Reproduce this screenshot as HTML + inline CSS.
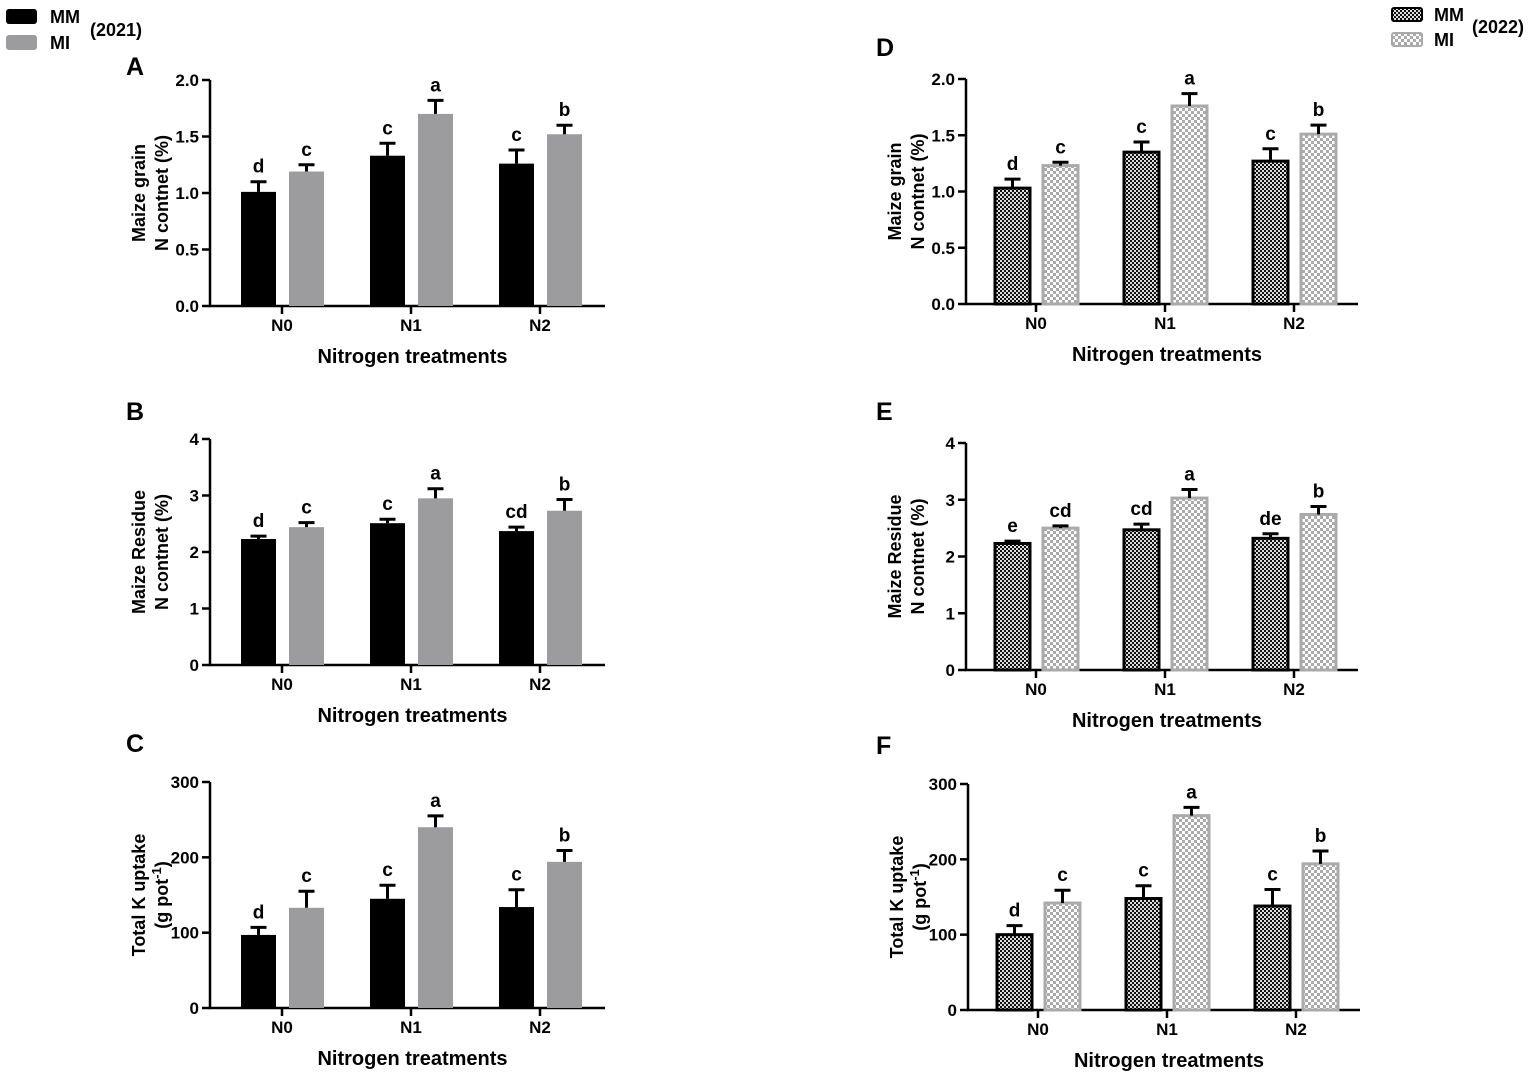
<!DOCTYPE html>
<html><head><meta charset="utf-8"><style>
html,body{margin:0;padding:0;background:#fff}
svg{display:block;font-family:"Liberation Sans",Arial,sans-serif;font-weight:bold}
</style></head><body>
<svg id="fig" width="1535" height="1073" viewBox="0 0 1535 1073" xmlns="http://www.w3.org/2000/svg">
<defs>
<pattern id="pMM" width="4" height="4" patternUnits="userSpaceOnUse"><rect width="4" height="4" fill="#111"/><rect width="2" height="2" fill="#ddd"/><rect x="2" y="2" width="2" height="2" fill="#ddd"/></pattern>
<pattern id="pMI" width="6" height="6" patternUnits="userSpaceOnUse"><rect width="6" height="6" fill="#fff"/><rect width="3" height="3" fill="#aaa"/><rect x="3" y="3" width="3" height="3" fill="#aaa"/></pattern>
</defs>
<g>
<rect x="6" y="9" width="31" height="15" rx="3" fill="#000"/>
<text x="50" y="23" font-size="18">MM</text>
<rect x="6" y="35" width="31" height="15" rx="3" fill="#9c9c9e"/>
<text x="50" y="49" font-size="18">MI</text>
<text x="90" y="36" font-size="18">(2021)</text>
</g>
<g>
<rect x="1392" y="8" width="30" height="13" rx="2" fill="url(#pMM)" stroke="#000" stroke-width="2"/>
<text x="1434" y="21" font-size="18">MM</text>
<rect x="1392" y="33" width="30" height="13" rx="2" fill="url(#pMI)" stroke="#aaa" stroke-width="2"/>
<text x="1434" y="46" font-size="18">MI</text>
<text x="1472" y="33" font-size="18">(2022)</text>
</g>
</svg>
<script>
const categories=["N0","N1","N2"];
const aMM=[1.01,1.33,1.26], aMMe=[0.09,0.11,0.12], aMI=[1.19,1.70,1.52], aMIe=[0.06,0.12,0.08];
const aLet=[["d","c"],["c","a"],["c","b"]];
const bMM=[2.23,2.51,2.37], bMMe=[0.05,0.07,0.07], bMI=[2.44,2.95,2.73], bMIe=[0.08,0.17,0.2];
const bLet=[["d","c"],["c","a"],["cd","b"]];
const cMM=[97,145,134], cMMe=[10,18,23], cMI=[133,240,194], cMIe=[22,15,15];
const cLet=[["d","c"],["c","a"],["c","b"]];
const dMM=[1.03,1.35,1.27], dMMe=[0.08,0.09,0.11], dMI=[1.23,1.76,1.51], dMIe=[0.03,0.11,0.08];
const dLet=[["d","c"],["c","a"],["c","b"]];
const eMM=[2.23,2.47,2.32], eMMe=[0.04,0.1,0.08], eMI=[2.5,3.03,2.74], eMIe=[0.04,0.15,0.14];
const eLet=[["e","cd"],["cd","a"],["de","b"]];
const fMM=[100,148,138], fMMe=[12,17,22], fMI=[142,258,194], fMIe=[17,11,17];
const fLet=[["d","c"],["c","a"],["c","b"]];
const ticksGrain=["0.0","0.5","1.0","1.5","2.0"], ticksRes=["0","1","2","3","4"], ticksK=["0","100","200","300"];

const svg=document.getElementById('fig'), NS="http://www.w3.org/2000/svg";
function mk(tag,attrs,parent,txt){const e=document.createElementNS(NS,tag);for(const k in attrs)e.setAttribute(k,attrs[k]);if(txt!==undefined)e.textContent=txt;(parent||svg).appendChild(e);return e;}

function panel(o){
  const g=mk('g',{});
  
  
  const ymax=parseFloat(o.ticks[o.ticks.length-1]);
  const y=v=>o.bot-(v/ymax)*(o.bot-o.top);
  const x=i=>o.c0+i*o.step;
  const ax=mk('path',{d:`M${o.ax} ${o.top}V${o.bot}H${o.ax2}`,stroke:'#000','stroke-width':2.5,fill:'none'},g);
  
  
  o.ticks.forEach((t,i)=>{const v=parseFloat(t);const yy=y(v);
    mk('line',{x1:o.ax-8,x2:o.ax,y1:yy,y2:yy,stroke:'#000','stroke-width':2.5},g);
    const tl=mk('text',{x:o.ax-11,y:yy+6,'font-size':17,'text-anchor':'end'},g,t);
    
    
  });
  categories.forEach((c,i)=>{
    mk('line',{x1:x(i),x2:x(i),y1:o.bot,y2:o.bot+8,stroke:'#000','stroke-width':2.5},g);
    const cl=mk('text',{x:x(i),y:o.bot+25,'font-size':17,'text-anchor':'middle'},g,c);
    
    
    [[o.mm,o.mme],[o.mi,o.mie]].forEach((s,k)=>{
      const v=s[0][i], e=s[1][i];
      const bx=x(i)+(k===0?-41:7), bw=35;
      const bar=mk('rect',{x:bx,y:y(v),width:bw,height:o.bot-y(v)},g);
      if(o.pat){bar.setAttribute('fill',k===0?'url(#pMM)':'url(#pMI)');bar.setAttribute('stroke',k===0?'#000':'#aaa');bar.setAttribute('stroke-width',3);}
      else bar.setAttribute('fill',k===0?'#000':'#9c9c9e');
      
      
      const cx=bx+bw/2;
      mk('path',{d:`M${cx} ${y(v)}V${y(v+e)}M${cx-8} ${y(v+e)}H${cx+8}`,stroke:'#000','stroke-width':3,fill:'none'},g);
      const lt=mk('text',{x:cx,y:y(v+e)-9,'font-size':19,'text-anchor':'middle'},g,o.lets[i][k]);
      
      
    });
  });
  const xt=mk('text',{x:(o.ax+o.ax2)/2+5,y:o.bot+57,'font-size':20,'text-anchor':'middle'},g,'Nitrogen treatments');
  
  
  const mid=(o.top+o.bot)/2;
  const yt=mk('text',{transform:`translate(${o.ax-65},${mid}) rotate(-90)`,'font-size':18,'text-anchor':'middle'},g);
  
  
  mk('tspan',{x:0,dy:0},yt,o.yl[0]);
  const t2=mk('tspan',{x:0,dy:23},yt,o.yl[1]);
  if(o.sup){t2.textContent='(g pot';mk('tspan',{dy:-7,'font-size':13},yt,'-1');mk('tspan',{dy:7},yt,')');}
  const pl=mk('text',{x:o.lx,y:o.ly,'font-size':25},g,o.letter);
  
  
}
const L={ax:210,ax2:605,c0:282,step:129,lx:126};
const R={ax:966,ax2:1358,c0:1036,step:129,lx:876};
panel({...L,letter:'A',ly:75,top:80,bot:306,ticks:ticksGrain,mm:aMM,mme:aMMe,mi:aMI,mie:aMIe,lets:aLet,yl:['Maize grain','N contnet (%)']});
panel({...L,letter:'B',ly:420,top:439,bot:665,ticks:ticksRes,mm:bMM,mme:bMMe,mi:bMI,mie:bMIe,lets:bLet,yl:['Maize Residue','N contnet (%)']});
panel({...L,letter:'C',ly:752,top:782,bot:1008,ticks:ticksK,mm:cMM,mme:cMMe,mi:cMI,mie:cMIe,lets:cLet,yl:['Total K uptake','(g pot-1)'],sup:true});
panel({...R,letter:'D',ly:56,top:79,bot:304,ticks:ticksGrain,mm:dMM,mme:dMMe,mi:dMI,mie:dMIe,lets:dLet,yl:['Maize grain','N contnet (%)'],pat:true});
panel({...R,letter:'E',ly:420,top:443,bot:670,ticks:ticksRes,mm:eMM,mme:eMMe,mi:eMI,mie:eMIe,lets:eLet,yl:['Maize Residue','N contnet (%)'],pat:true});
panel({ax:968,ax2:1360,c0:1038,step:129,lx:876,ly:754,letter:'F',top:784,bot:1010,ticks:ticksK,mm:fMM,mme:fMMe,mi:fMI,mie:fMIe,lets:fLet,yl:['Total K uptake','(g pot-1)'],sup:true,pat:true});
</script>
</body></html>
